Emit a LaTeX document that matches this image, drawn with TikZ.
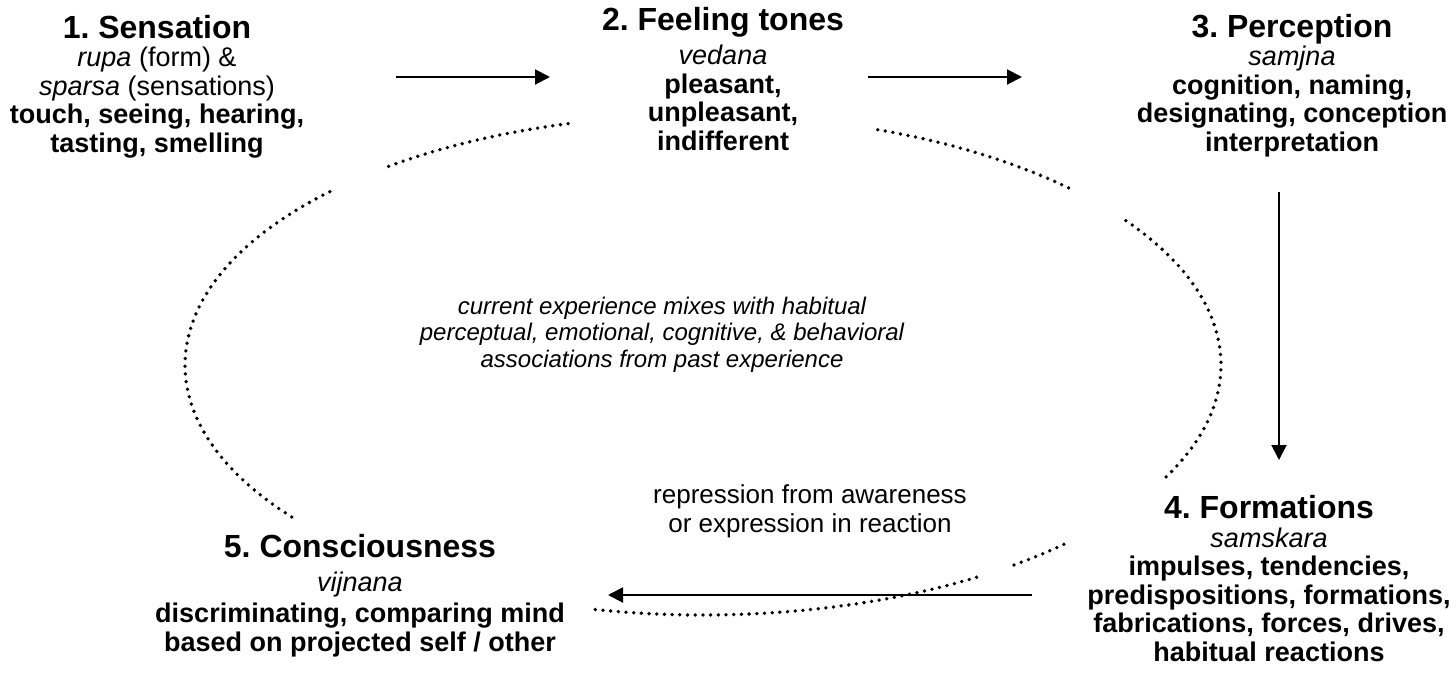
\documentclass[tikz,border=0pt]{standalone}
\usepackage{fontspec}
\setmainfont{Liberation Sans}
\usetikzlibrary{arrows.meta}
\frenchspacing
\newcommand\steptitle[1]{{\fontsize{16}{16.5}\selectfont\bfseries #1}}
\begin{document}
\begin{tikzpicture}[x=0.5pt,y=-0.5pt,
  blk/.style={align=center, inner sep=0pt, anchor=base, font=\fontsize{13.5}{14.25}\selectfont},
  midtext/.style={align=center, inner sep=0pt, anchor=base, font=\fontsize{12}{13.25}\selectfont\itshape},
  labtext/.style={align=center, inner sep=0pt, anchor=base, font=\fontsize{13}{14.5}\selectfont},
  flow/.style={line width=1pt, -{Triangle[length=7.5pt,width=7.5pt]}},
  dotloop/.style={line width=1.9pt, line cap=round, dash pattern=on 0pt off 3.85pt}]
\useasboundingbox (0,0) rectangle (1456,680);

% step blocks (anchor = baseline of last line)
\node[blk] (n1) at (157,152) {\steptitle{1. Sensation}\\
  \textit{rupa} (form) \&\\
  \textit{sparsa} (sensations)\\
  \textbf{touch, seeing, hearing,}\\
  \textbf{tasting, smelling}};
\node[blk] (n2) at (723,150) {\steptitle{2. Feeling tones}\\[3pt]
  \textit{vedana}\\
  \textbf{pleasant,}\\
  \textbf{unpleasant,}\\
  \textbf{indifferent}};
\node[blk] (n3) at (1292,151) {\steptitle{3. Perception}\\
  \textit{samjna}\\
  \textbf{cognition, naming,}\\
  \textbf{designating, conception}\\
  \textbf{interpretation}};
\node[blk] (n4) at (1269,661) {\steptitle{4. Formations}\\
  \textit{samskara}\\
  \textbf{impulses, tendencies,}\\
  \textbf{predispositions, formations,}\\
  \textbf{fabrications, forces, drives,}\\
  \textbf{habitual reactions}};
\node[blk] (n5) at (360,651) {\steptitle{5. Consciousness}\\[2.75pt]
  \textit{vijnana}\\[1.25pt]
  \textbf{discriminating, comparing mind}\\
  \textbf{based on projected self / other}};

\node[midtext] (mid) at (662,367) {current experience mixes with habitual\\
  perceptual, emotional, cognitive, \& behavioral\\
  associations from past experience};
\node[labtext] (lab) at (810,532) {repression from awareness\\or expression in reaction};

% arrow ends
\coordinate (a12s) at (396,77);
\coordinate (a12e) at (550,77);
\coordinate (a23s) at (868,77);
\coordinate (a23e) at (1022,77);
\coordinate (a34s) at (1279,192);
\coordinate (a34e) at (1279,460);
\coordinate (a45s) at (1032,595);
\coordinate (a45e) at (608,595);
\draw[flow] (a12s) -- (a12e);
\draw[flow] (a23s) -- (a23e);
\draw[flow] (a34s) -- (a34e);
\draw[flow] (a45s) -- (a45e);

% dotted loop (one ellipse, drawn in pieces)
\coordinate (ec) at (703,365);
\draw[dotloop] ([shift={(105.1:259pt and 125pt)}]ec) arc[start angle=105.1, end angle=128.3, x radius=259pt, y radius=125pt];
\draw[dotloop] ([shift={(136.1:259pt and 125pt)}]ec) arc[start angle=136.1, end angle=217.5, x radius=259pt, y radius=125pt];
\draw[dotloop] ([shift={(45.1:259pt and 125pt)}]ec) arc[start angle=45.1, end angle=70.5, x radius=259pt, y radius=125pt];
\draw[dotloop] ([shift={(-26.6:259pt and 125pt)}]ec) arc[start angle=-26.6, end angle=35.8, x radius=259pt, y radius=125pt];
\draw[dotloop] ([shift={(-102:259pt and 125pt)}]ec) arc[start angle=-102, end angle=-57.5, x radius=259pt, y radius=125pt];
\draw[dotloop] ([shift={(-53.1:259pt and 125pt)}]ec) arc[start angle=-53.1, end angle=-45.2, x radius=259pt, y radius=125pt];
\end{tikzpicture}
\end{document}
